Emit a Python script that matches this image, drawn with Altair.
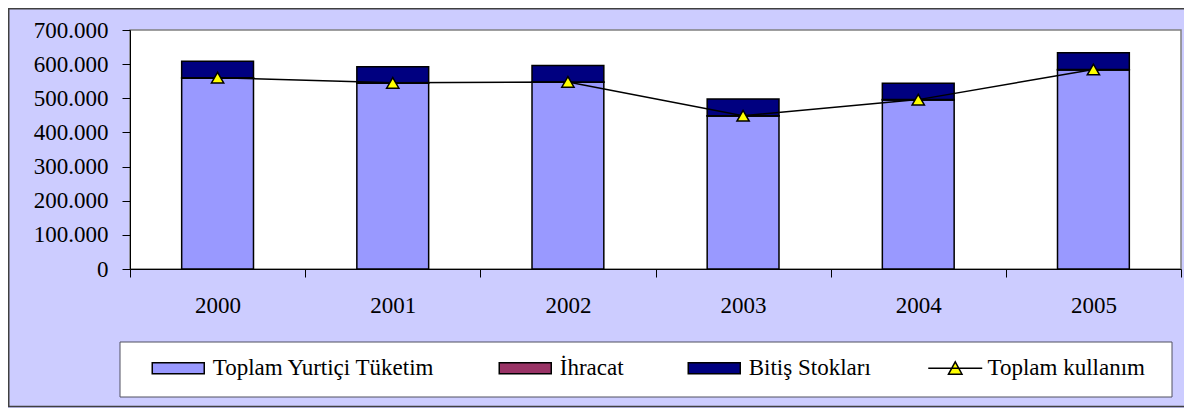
import altair as alt
import pandas as pd

years = ["2000", "2001", "2002", "2003", "2004", "2005"]
yurtici = [559000, 544000, 547000, 448000, 495000, 583000]
ihracat = [1500, 1200, 1000, 900, 1100, 1300]
stok = [48000, 47000, 48000, 49000, 48000, 49000]
toplam = [560500, 545200, 548000, 448900, 496100, 584300]

series = ["Toplam Yurtiçi Tüketim", "İhracat", "Bitiş Stokları"]
series_colors = ["#9999FF", "#993366", "#000080"]
line_name = "Toplam kullanım"
y_ticks = [0, 100000, 200000, 300000, 400000, 500000, 600000, 700000]

rows = []
for i, yr in enumerate(years):
    for k, (name, vals) in enumerate(zip(series, [yurtici, ihracat, stok])):
        rows.append({"Yil": yr, "Seri": name, "Deger": vals[i], "Sira": k})
bars_df = pd.DataFrame(rows)
line_df = pd.DataFrame({"Yil": years, "Deger": toplam, "Seri": [line_name] * len(years)})
one = pd.DataFrame({"k": [0]})

FONT = "Liberation Serif"


def y_axis():
    return alt.Axis(
        values=y_ticks, tickCount=8, labelPadding=14, labelOverlap=False,
        labelExpr="replace(format(datum.value, ','), ',', '.')",
    )


x_axis = alt.Axis(labelAngle=0, tickBand="extent", labelPadding=17)
x_scale = alt.Scale(paddingInner=0, paddingOuter=0)
y_scale = alt.Scale(domain=[0, 700000], nice=False)

frame = alt.Chart(one).mark_rect(fillOpacity=0, stroke="#404040", strokeWidth=1.5).encode(
    x=alt.value(-121.25), x2=alt.value(1200), y=alt.value(-21.25), y2=alt.value(376.5)
)
legend_box = alt.Chart(one).mark_rect(fill="white", stroke="#505060", strokeWidth=1).encode(
    x=alt.value(-10), x2=alt.value(1042), y=alt.value(312), y2=alt.value(367)
)

bars = alt.Chart(bars_df).mark_bar(
    width={"band": 0.41}, stroke="black", strokeWidth=1.5, opacity=1
).encode(
    x=alt.X("Yil:O", title=None, scale=x_scale, axis=x_axis),
    y=alt.Y("Deger:Q", stack="zero", title=None, scale=y_scale, axis=y_axis()),
    color=alt.Color(
        "Seri:N",
        scale=alt.Scale(domain=series, range=series_colors),
        legend=alt.Legend(
            title=None, orient="none", legendX=21.25, legendY=311.25,
            direction="horizontal", symbolType="M-1,-0.21H1V0.21H-1Z",
            symbolSize=2704, symbolStrokeColor="black", symbolStrokeWidth=1.5,
            symbolOpacity=1, labelOffset=7.5, columnPadding=61, padding=0, labelLimit=0,
        ),
    ),
    order=alt.Order("Sira:Q", sort="ascending"),
)

line = alt.Chart(line_df).mark_line(strokeWidth=1.5).encode(
    x=alt.X("Yil:O", title=None, scale=x_scale, axis=x_axis),
    y=alt.Y("Deger:Q", title=None, scale=y_scale, axis=y_axis()),
    stroke=alt.Stroke(
        "Seri:N",
        scale=alt.Scale(domain=[line_name], range=["black"]),
        legend=alt.Legend(
            title=None, orient="none", legendX=797.25, legendY=310.25,
            symbolType="M-1,0H1M-0.25,0.22L0,-0.24L0.25,0.22Z",
            symbolSize=2916, symbolFillColor="#FFFF00", symbolStrokeColor="black",
            symbolStrokeWidth=1.5, symbolOpacity=1, labelOffset=4.25, padding=0,
            labelLimit=0,
        ),
    ),
)

points = alt.Chart(line_df).mark_point(
    shape="triangle-up", filled=True, fill="#FFFF00", stroke="black",
    strokeWidth=1.5, size=150, opacity=1
).encode(
    x=alt.X("Yil:O", title=None, scale=x_scale, axis=x_axis),
    y=alt.Y("Deger:Q", title=None, scale=y_scale, axis=y_axis()),
)

chart = alt.layer(frame, legend_box, bars, line, points).resolve_scale(
    color="independent", stroke="independent"
).properties(
    width=1051, height=239,
    autosize=alt.AutoSizeParams(type="none"),
    padding={"left": 122, "top": 22, "right": 3, "bottom": 139},
    background="#CCCCFF",
).configure_view(
    stroke="#808080", strokeWidth=1.5, fill="white"
).configure_axis(
    labelFont=FONT, labelFontSize=23, labelColor="black", domainColor="black",
    tickColor="black", tickSize=8, grid=False, labelOverlap=False,
).configure_legend(
    labelFont=FONT, labelFontSize=23, labelColor="black",
)

chart.save("out.html", embed_options={"renderer": "svg", "actions": False})
